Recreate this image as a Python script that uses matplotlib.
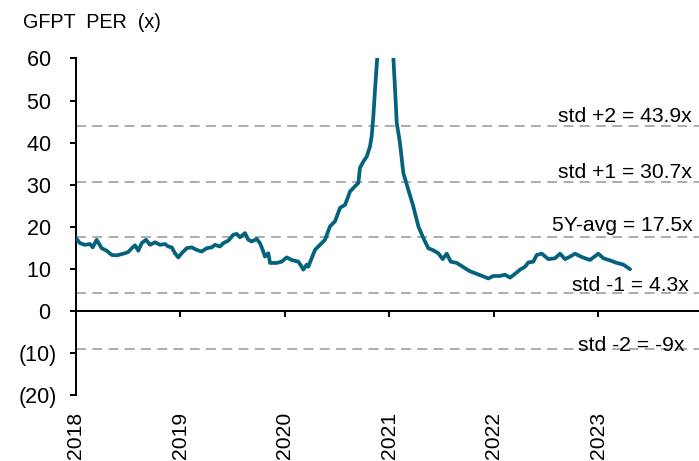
import matplotlib
matplotlib.use("Agg")
import matplotlib.pyplot as plt

plt.rcParams['font.family'] = ['Liberation Sans', 'DejaVu Sans']

# ---- data (decimal years, PER values) ----
years = [
    2018.000, 2018.038, 2018.086, 2018.134, 2018.160, 2018.198, 2018.246, 2018.294,
    2018.342, 2018.390, 2018.438, 2018.469, 2018.501, 2018.534, 2018.565, 2018.597,
    2018.629, 2018.670, 2018.709, 2018.757, 2018.805, 2018.852, 2018.884, 2018.917,
    2018.948, 2018.980, 2019.012, 2019.060, 2019.108, 2019.156, 2019.204, 2019.252,
    2019.300, 2019.331, 2019.379, 2019.411, 2019.459, 2019.507, 2019.539, 2019.571,
    2019.619, 2019.650, 2019.683, 2019.731, 2019.762, 2019.788, 2019.810, 2019.842,
    2019.858, 2019.922, 2019.970, 2020.018, 2020.066, 2020.129, 2020.162, 2020.177,
    2020.210, 2020.225, 2020.289, 2020.337, 2020.385, 2020.433, 2020.481, 2020.529,
    2020.577, 2020.625, 2020.672, 2020.704, 2020.720, 2020.752, 2020.785, 2020.816,
    2020.832, 2020.848, 2020.864, 2020.886, 2020.960, 2021.039, 2021.056, 2021.072,
    2021.103, 2021.135, 2021.183, 2021.231, 2021.279, 2021.327, 2021.374, 2021.422,
    2021.470, 2021.512, 2021.551, 2021.589, 2021.647, 2021.710, 2021.774, 2021.838,
    2021.901, 2021.949, 2021.997, 2022.061, 2022.109, 2022.157, 2022.205, 2022.253,
    2022.301, 2022.332, 2022.380, 2022.413, 2022.461, 2022.524, 2022.588, 2022.636,
    2022.684, 2022.732, 2022.780, 2022.844, 2022.923, 2023.003, 2023.051, 2023.115,
    2023.179, 2023.242, 2023.307,
]
per = [
    17.3, 16.1, 15.7, 15.9, 15.1, 16.9, 14.9, 14.3,
    13.3, 13.2, 13.5, 13.7, 14.0, 14.9, 15.6, 14.3,
    16.1, 16.9, 15.7, 16.3, 15.7, 15.9, 15.3, 15.1,
    13.7, 12.7, 13.7, 14.9, 15.1, 14.5, 14.1, 14.9,
    15.1, 15.7, 15.3, 16.1, 16.7, 18.1, 18.3, 17.5,
    18.5, 16.9, 16.5, 17.1, 16.1, 14.5, 12.9, 13.7,
    11.4, 11.4, 11.7, 12.7, 12.1, 11.7, 10.5, 9.8,
    11.0, 10.5, 14.5, 15.7, 16.9, 20.1, 21.3, 24.5,
    25.2, 28.4, 29.6, 30.4, 34.0, 35.5, 36.7, 39.1,
    41.5, 46.3, 52.6, 60.5, 120.0, 60.5, 52.6, 44.7,
    39.9, 32.8, 28.8, 24.8, 20.1, 17.3, 14.9, 14.4,
    13.7, 12.3, 13.6, 11.7, 11.4, 10.4, 9.4, 8.8,
    8.2, 7.7, 8.3, 8.3, 8.6, 7.9, 8.8, 9.8,
    10.5, 11.5, 11.7, 13.3, 13.6, 12.3, 12.5, 13.6,
    12.3, 12.9, 13.6, 12.8, 12.1, 13.6, 12.5, 12.0,
    11.4, 11.0, 9.9,
]

band_values = [43.9, 30.7, 17.5, 4.3, -9.0]
band_labels = ["std +2 = 43.9x", "std +1 = 30.7x", "5Y-avg = 17.5x",
               "std -1 = 4.3x", "std -2 = -9x"]

year_ticks = [2018, 2019, 2020, 2021, 2022, 2023]
year_labels = ["2018", "2019", "2020", "2021", "2022", "2023"]
y_ticks = [60, 50, 40, 30, 20, 10, 0, -10, -20]
y_labels = ["60 ", "50 ", "40 ", "30 ", "20 ", "10 ", "0 ", "(10)", "(20)"]

title = "GFPT  PER  (x)"

# ---- layout ----
W, H = 699, 461
fig = plt.figure(figsize=(W / 100, H / 100), dpi=100)
left_px, right_px, top_px, bottom_px = 76, 699, 58.5, 395
ax = fig.add_axes([left_px / W, 1 - bottom_px / H,
                   (right_px - left_px) / W, (bottom_px - top_px) / H])

line_color = "#03627C"
ax.plot(years, per, color=line_color, lw=2.7, solid_joinstyle="round",
        solid_capstyle="round", zorder=3)

ax.set_xlim(2018, 2023.967)
ax.set_ylim(-20, 60)

# dashed bands
text_dx = [-7, -7, -6, -10, -14]   # px offsets (styling)
text_dy = [4.5, 3.5, 6, 2, -2.5]
for v, lab, dx, dy in zip(band_values, band_labels, text_dx, text_dy):
    ax.axhline(v, color="#A6A6A6", lw=1.3, dashes=(5.5, 3.5), zorder=1)
    ax.annotate(lab, xy=(1, v), xycoords=ax.get_yaxis_transform(),
                xytext=(dx * 0.72, dy * 0.72), textcoords="offset points",
                ha="right", va="baseline", fontsize=15.2, color="black", zorder=4)

# spines
for s in ["top", "right"]:
    ax.spines[s].set_visible(False)
ax.spines["bottom"].set_position(("data", 0))
ax.spines["left"].set_linewidth(1.4)
ax.spines["bottom"].set_linewidth(1.4)

ax.set_yticks(y_ticks)
ax.set_yticklabels(y_labels)
ax.tick_params(axis="y", direction="out", length=4.5, width=1.4, pad=9,
               labelsize=15.5)
ax.set_xticks(year_ticks)
ax.set_xticklabels([])
ax.tick_params(axis="x", direction="out", length=4.5, width=1.4)

# year labels at the bottom
for yr, lab in zip(year_ticks, year_labels):
    ax.annotate(lab, xy=(yr, 0), xycoords=ax.get_xaxis_transform(),
                xytext=(0, -12), textcoords="offset points",
                ha="center", va="top", rotation=90, fontsize=15.2)

fig.text(23 / W, 1 - 28 / H, title, ha="left", va="baseline", fontsize=14.2)

fig.savefig("out.png", dpi=100)
